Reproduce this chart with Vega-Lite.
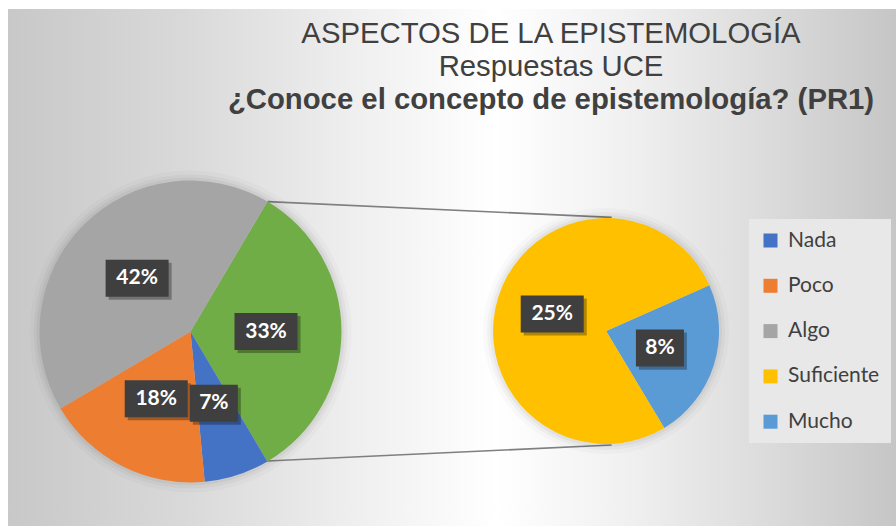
{
  "$schema": "https://vega.github.io/schema/vega-lite/v6.json",
  "width": 888,
  "height": 517,
  "autosize": {"type": "none"},
  "padding": {"left": 8, "top": 9, "right": 0, "bottom": 0},
  "background": "#ffffff",
  "config": {"view": {"stroke": null}},
  "title": {
    "text": ["ASPECTOS DE LA EPISTEMOLOGÍA", "Respuestas UCE"],
    "subtitle": "¿Conoce el concepto de epistemología? (PR1)",
    "anchor": "middle",
    "frame": "group",
    "dx": 99,
    "offset": -106,
    "font": "Liberation Sans",
    "fontSize": 29.3,
    "fontWeight": "normal",
    "color": "#404040",
    "lineHeight": 33,
    "subtitleFont": "Liberation Sans",
    "subtitleFontSize": 29.3,
    "subtitleFontWeight": "bold",
    "subtitleColor": "#404040",
    "subtitleLineHeight": 33,
    "subtitlePadding": 3
  },
  "datasets": {
    "respuestas": [
      {"pie": "principal", "categoria": "Otro", "valor": 0.33, "i": 1},
      {"pie": "principal", "categoria": "Nada", "valor": 0.07, "i": 2},
      {"pie": "principal", "categoria": "Poco", "valor": 0.18, "i": 3},
      {"pie": "principal", "categoria": "Algo", "valor": 0.42, "i": 4},
      {"pie": "secundario", "categoria": "Mucho", "valor": 0.076, "i": 1},
      {"pie": "secundario", "categoria": "Suficiente", "valor": 0.254, "i": 2}
    ]
  },
  "layer": [
    {
      "data": {"values": [{}]},
      "mark": {
        "type": "rect",
        "fill": {
          "gradient": "linear", "x1": 0, "y1": 0, "x2": 1, "y2": 0,
          "stops": [
            {"offset": 0, "color": "#c8c8c8"},
            {"offset": 0.2, "color": "#d9d9d9"},
            {"offset": 0.4, "color": "#f0f0f0"},
            {"offset": 0.55, "color": "#ffffff"},
            {"offset": 0.7, "color": "#f0f0f0"},
            {"offset": 0.85, "color": "#dcdcdc"},
            {"offset": 1, "color": "#c6c6c6"}
          ]
        }
      },
      "encoding": {
        "x": {"value": 0}, "x2": {"value": "width"},
        "y": {"value": 0}, "y2": {"value": "height"}
      }
    },
    {
      "data": {"values": [{}]},
      "mark": {"type": "rule", "stroke": "#7f7f7f", "strokeWidth": 1.6},
      "encoding": {
        "x": {"datum": 0.511, "type": "quantitative", "scale": {"domain": [-1.2086, 4.672], "nice": false, "zero": false}, "axis": null},
        "y": {"datum": 0.86, "type": "quantitative", "scale": {"domain": [-1.288, 2.136], "nice": false, "zero": false}, "axis": null},
        "x2": {"datum": 2.789},
        "y2": {"datum": 0.756}
      }
    },
    {
      "data": {"values": [{}]},
      "mark": {"type": "rule", "stroke": "#7f7f7f", "strokeWidth": 1.6},
      "encoding": {
        "x": {"datum": 0.509, "type": "quantitative", "scale": {"domain": [-1.2086, 4.672], "nice": false, "zero": false}, "axis": null},
        "y": {"datum": -0.858, "type": "quantitative", "scale": {"domain": [-1.288, 2.136], "nice": false, "zero": false}, "axis": null},
        "x2": {"datum": 2.789},
        "y2": {"datum": -0.752}
      }
    },
    {
      "data": {"name": "respuestas"},
      "encoding": {
        "x": {"datum": 0, "type": "quantitative", "scale": {"domain": [-1.2086, 4.672], "nice": false, "zero": false}, "axis": null},
        "y": {"datum": 0, "type": "quantitative", "scale": {"domain": [-1.288, 2.136], "nice": false, "zero": false}, "axis": null}
      },
      "layer": [
        {
          "data": {"values": [{}]},
          "mark": {"type": "arc", "theta": 0, "theta2": 6.2832, "outerRadius": 161, "fill": "#000000", "fillOpacity": 0.02}
        },
        {
          "data": {"values": [{}]},
          "mark": {"type": "arc", "theta": 0, "theta2": 6.2832, "outerRadius": 157, "fill": "#000000", "fillOpacity": 0.03}
        },
        {
          "data": {"values": [{}]},
          "mark": {"type": "arc", "theta": 0, "theta2": 6.2832, "outerRadius": 154, "fill": "#000000", "fillOpacity": 0.04}
        },
        {
          "transform": [{"filter": "datum.pie === 'principal'"}],
          "mark": {"type": "arc", "outerRadius": 151},
          "encoding": {
            "theta": {"field": "valor", "type": "quantitative", "stack": true, "scale": {"range": [0.5341, 6.8173]}},
            "order": {"field": "i", "type": "quantitative"},
            "color": {
              "condition": {"test": "datum.categoria === 'Otro'", "value": "#70AD47"},
              "field": "categoria", "type": "nominal",
              "scale": {"domain": ["Nada", "Poco", "Algo", "Suficiente", "Mucho"], "range": ["#4472C4", "#ED7D31", "#A5A5A5", "#FFC000", "#5B9BD5"]},
              "legend": {"title": null, "orient": "none", "legendX": 741, "legendY": 210, "symbolType": "square", "symbolSize": 196, "symbolStrokeWidth": 0, "labelFont": "Lato", "labelFontSize": 21, "labelColor": "#404040", "rowPadding": 23.3, "labelOffset": 7, "padding": 11, "fillColor": "#e8e8e8"}
            }
          }
        }
      ]
    },
    {
      "data": {"name": "respuestas"},
      "encoding": {
        "x": {"datum": 2.752, "type": "quantitative", "scale": {"domain": [-1.2086, 4.672], "nice": false, "zero": false}, "axis": null},
        "y": {"datum": 0.003, "type": "quantitative", "scale": {"domain": [-1.288, 2.136], "nice": false, "zero": false}, "axis": null}
      },
      "layer": [
        {
          "data": {"values": [{}]},
          "mark": {"type": "arc", "theta": 0, "theta2": 6.2832, "outerRadius": 123, "fill": "#000000", "fillOpacity": 0.02}
        },
        {
          "data": {"values": [{}]},
          "mark": {"type": "arc", "theta": 0, "theta2": 6.2832, "outerRadius": 119, "fill": "#000000", "fillOpacity": 0.03}
        },
        {
          "data": {"values": [{}]},
          "mark": {"type": "arc", "theta": 0, "theta2": 6.2832, "outerRadius": 116, "fill": "#000000", "fillOpacity": 0.04}
        },
        {
          "transform": [{"filter": "datum.pie === 'secundario'"}],
          "mark": {"type": "arc", "outerRadius": 113},
          "encoding": {
            "theta": {"field": "valor", "type": "quantitative", "stack": true, "scale": {"range": [1.1537, 7.4369]}},
            "order": {"field": "i", "type": "quantitative"},
            "color": {
              "condition": {"test": "datum.categoria === 'Otro'", "value": "#70AD47"},
              "field": "categoria", "type": "nominal",
              "scale": {"domain": ["Nada", "Poco", "Algo", "Suficiente", "Mucho"], "range": ["#4472C4", "#ED7D31", "#A5A5A5", "#FFC000", "#5B9BD5"]},
              "legend": {"title": null, "orient": "none", "legendX": 741, "legendY": 210, "symbolType": "square", "symbolSize": 196, "symbolStrokeWidth": 0, "labelFont": "Lato", "labelFontSize": 21, "labelColor": "#404040", "rowPadding": 23.3, "labelOffset": 7, "padding": 11, "fillColor": "#e8e8e8"}
            }
          }
        }
      ]
    },
    {
      "data": {"name": "respuestas"},
      "transform": [
        {"stack": "valor", "groupby": ["pie"], "sort": [{"field": "i", "order": "ascending"}], "as": ["v0", "v1"]},
        {"joinaggregate": [{"op": "sum", "field": "valor", "as": "total"}], "groupby": ["pie"]},
        {"calculate": "(datum.pie === 'principal' ? 0.5341 : 1.1537) + PI * (datum.v0 + datum.v1) / datum.total", "as": "ang"},
        {"calculate": "(datum.pie === 'principal' ? 0 : 2.752) + (datum.pie === 'principal' ? 0.5 : 0.374) * sin(datum.ang)", "as": "lx"},
        {"calculate": "(datum.pie === 'principal' ? 0 : 0.003) + (datum.pie === 'principal' ? 0.5 : 0.374) * cos(datum.ang)", "as": "ly"},
        {"calculate": "datum.lx + 0.02", "as": "sx"},
        {"calculate": "datum.ly - 0.02", "as": "sy"}
      ],
      "layer": [
        {
          "mark": {"type": "point", "filled": true, "fill": "#000000", "opacity": 0.3, "strokeWidth": 0},
          "encoding": {
            "x": {"field": "sx", "type": "quantitative", "scale": {"domain": [-1.2086, 4.672], "nice": false, "zero": false}, "axis": null},
            "y": {"field": "sy", "type": "quantitative", "scale": {"domain": [-1.288, 2.136], "nice": false, "zero": false}, "axis": null},
            "shape": {"condition": {"test": "datum.valor < 0.1", "value": "M-1,-0.771L1,-0.771L1,0.771L-1,0.771Z"}, "value": "M-1,-0.587L1,-0.587L1,0.587L-1,0.587Z"},
            "size": {"condition": {"test": "datum.valor < 0.1", "value": 2304}, "value": 3969}
          }
        },
        {
          "mark": {"type": "point", "filled": true, "fill": "#3f3f3f", "opacity": 1, "strokeWidth": 0},
          "encoding": {
            "x": {"field": "lx", "type": "quantitative", "scale": {"domain": [-1.2086, 4.672], "nice": false, "zero": false}, "axis": null},
            "y": {"field": "ly", "type": "quantitative", "scale": {"domain": [-1.288, 2.136], "nice": false, "zero": false}, "axis": null},
            "shape": {"condition": {"test": "datum.valor < 0.1", "value": "M-1,-0.771L1,-0.771L1,0.771L-1,0.771Z"}, "value": "M-1,-0.587L1,-0.587L1,0.587L-1,0.587Z"},
            "size": {"condition": {"test": "datum.valor < 0.1", "value": 2304}, "value": 3969}
          }
        },
        {
          "mark": {"type": "text", "font": "Lato", "fontSize": 21, "fontWeight": "bold", "fill": "#ffffff", "align": "center", "baseline": "middle"},
          "encoding": {
            "x": {"field": "lx", "type": "quantitative", "scale": {"domain": [-1.2086, 4.672], "nice": false, "zero": false}, "axis": null},
            "y": {"field": "ly", "type": "quantitative", "scale": {"domain": [-1.288, 2.136], "nice": false, "zero": false}, "axis": null},
            "text": {"field": "valor", "format": ".0%"}
          }
        }
      ]
    }
  ],
  "resolve": {"scale": {"theta": "independent"}}
}
